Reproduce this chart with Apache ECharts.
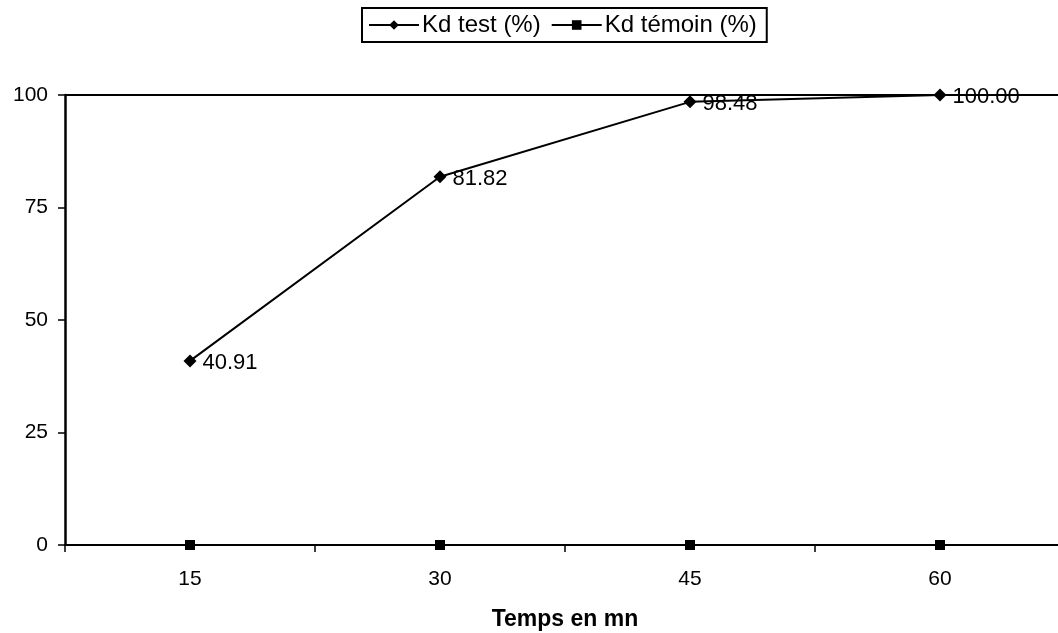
<!DOCTYPE html>
<html><head><meta charset="utf-8">
<script src="https://cdn.jsdelivr.net/npm/echarts@6/dist/echarts.min.js"></script>
<style>html,body{margin:0;padding:0;background:#fff}#c{width:1058px;height:633px}</style>
</head><body><div id="c"></div>
<script>
const categories = ['15', '30', '45', '60'];
const kdTest = [40.91, 81.82, 98.48, 100.00];
const kdTemoin = [0, 0, 0, 0];
const yTicks = [0, 25, 50, 75, 100];

const font = '"Liberation Sans", Arial, sans-serif';
const chart = echarts.init(document.getElementById('c'));
chart.setOption({
  animation: false,
  backgroundColor: '#fff',
  textStyle: { fontFamily: font, color: '#000' },
  legend: {
    top: 8, left: 362,
    borderColor: '#000', borderWidth: 2, padding: [5, 10, 5, 6],
    itemWidth: 50, itemHeight: 12, itemGap: 10,
    textStyle: { fontSize: 24, color: '#000', fontFamily: font, padding: [0, 0, 0, -2] },
    data: ['Kd test (%)', 'Kd témoin (%)']
  },
  grid: { left: 65, top: 95, bottom: 88, width: 1000, containLabel: false, outerBoundsMode: 'none' },
  xAxis: {
    type: 'category', data: categories, boundaryGap: true,
    name: 'Temps en mn', nameLocation: 'middle', nameGap: 63,
    nameTextStyle: { fontSize: 23, fontWeight: 'bold', color: '#000', fontFamily: font },
    axisLine: { lineStyle: { color: '#000', width: 2 } },
    axisTick: { show: true, length: 7, lineStyle: { color: '#000', width: 1.5 } },
    axisLabel: { fontSize: 21, color: '#000', margin: 24, fontFamily: font }
  },
  yAxis: {
    type: 'value', min: yTicks[0], max: yTicks[yTicks.length - 1], interval: 25,
    axisLine: { show: true, lineStyle: { color: '#000', width: 2.5 } },
    axisTick: { show: true, length: 7, lineStyle: { color: '#000', width: 1.5 } },
    axisLabel: { fontSize: 21, color: '#000', margin: 17, fontFamily: font },
    splitLine: { show: false }
  },
  series: [
    {
      name: 'Kd test (%)', type: 'line', data: kdTest,
      symbol: 'diamond', symbolSize: 13,
      lineStyle: { color: '#000', width: 2 }, itemStyle: { color: '#000' },
      label: { show: true, position: 'right', distance: 6, fontSize: 22, color: '#000',
               fontFamily: font, offset: [0, 2], formatter: p => p.value.toFixed(2) },
      markLine: {
        silent: true, symbol: 'none', label: { show: false },
        lineStyle: { color: '#000', width: 2, type: 'solid' },
        data: [{ yAxis: 100 }]
      },
      z: 3
    },
    {
      name: 'Kd témoin (%)', type: 'line', data: kdTemoin,
      symbol: 'rect', symbolSize: 10,
      lineStyle: { color: '#000', width: 2 }, itemStyle: { color: '#000' },
      z: 3
    }
  ]
});
</script></body></html>
